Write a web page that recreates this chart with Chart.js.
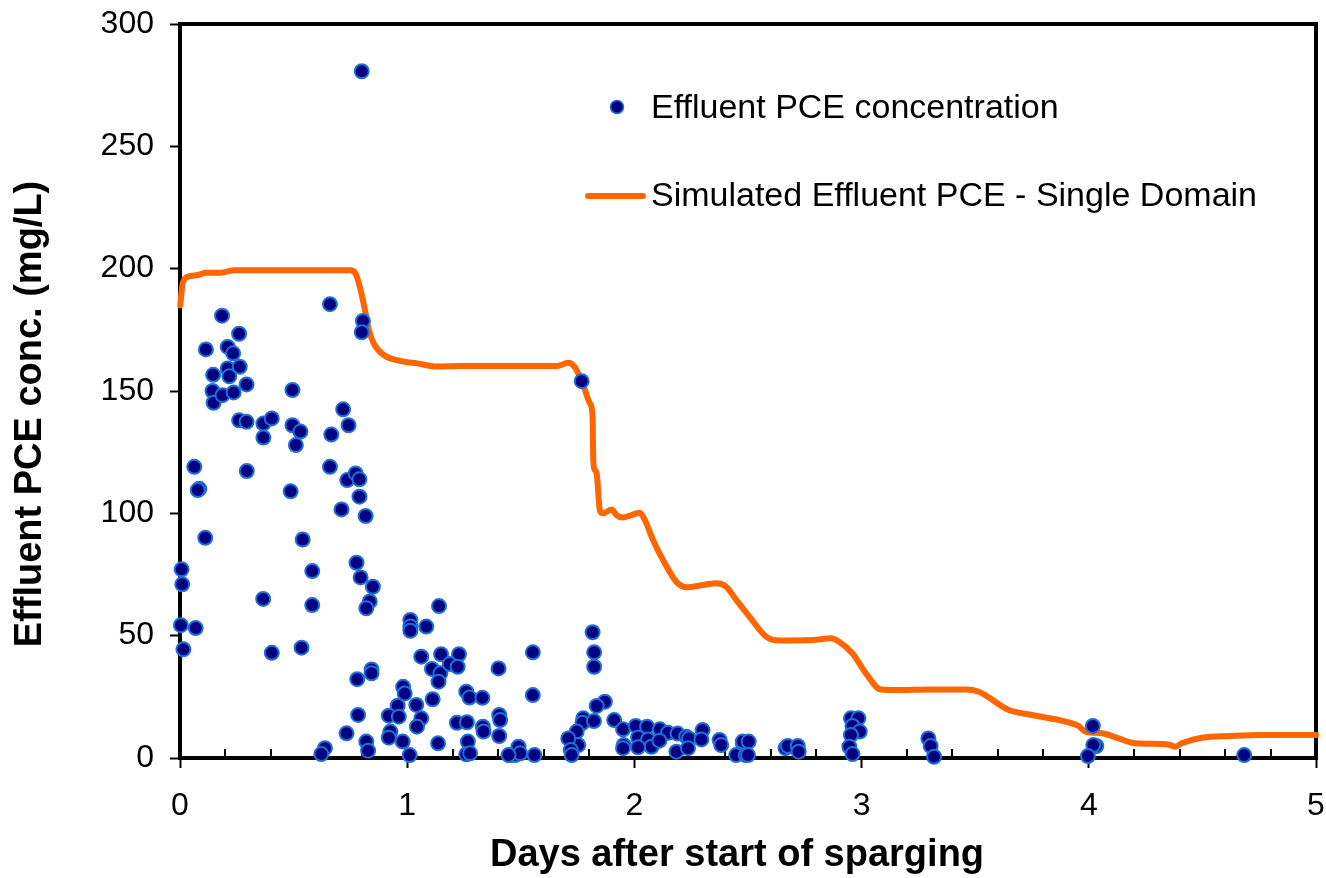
<!DOCTYPE html>
<html>
<head>
<meta charset="utf-8">
<script src="https://cdn.jsdelivr.net/npm/chart.js@4.4.1/dist/chart.umd.min.js"></script>
<style>
  html, body { margin: 0; padding: 0; background: #ffffff; }
  #wrap { width: 1326px; height: 878px; position: relative; }
</style>
</head>
<body>
<div id="wrap"><canvas id="c" width="1326" height="878"></canvas></div>
<script>
// ---------------- DATA ----------------
const xTickValues = [0, 1, 2, 3, 4, 5];
const yTickValues = [0, 50, 100, 150, 200, 250, 300];

const obsLabel = "Effluent PCE concentration";
const simLabel = "Simulated Effluent PCE - Single Domain";
const xTitle = "Days after start of sparging";
const yTitle = "Effluent PCE conc. (mg/L)";

// Observed effluent PCE (days, mg/L)
const obsDays = [
  0.80, 0.007, 0.01, 0.004, 0.015, 0.063, 0.085, 0.078, 0.069, 0.111,
  0.114, 0.146, 0.143, 0.148, 0.185, 0.187, 0.21, 0.21, 0.217, 0.234,
  0.236, 0.26, 0.263, 0.293, 0.26, 0.293, 0.294, 0.367, 0.404, 0.367,
  0.366, 0.404, 0.495, 0.495, 0.53, 0.51, 0.487, 0.54, 0.582, 0.582,
  0.535, 0.66, 0.666, 0.66, 0.718, 0.742, 0.736, 0.773, 0.79, 0.79,
  0.711, 0.817, 0.805, 0.80, 0.777, 0.795, 0.849, 0.835, 0.82, 0.843,
  0.843, 0.78, 0.784, 0.733, 0.82, 0.828, 0.638, 0.622,
  0.982, 0.989, 0.958, 0.919, 0.963, 0.926, 0.919, 0.98, 1.011, 1.014,
  1.014, 1.014, 1.084, 1.14, 1.062, 1.149, 1.228, 1.109, 1.146, 1.138,
  1.187, 1.222, 1.04, 1.112, 1.062, 1.043, 1.136, 1.26, 1.274, 1.331,
  1.219, 1.263, 1.333, 1.336, 1.267, 1.26, 1.277, 1.402, 1.405, 1.409,
  1.405, 1.453, 1.475, 1.487, 1.49, 1.497, 1.56, 1.446, 1.553, 1.553,
  1.816, 1.823, 1.823, 1.87, 1.834, 1.775, 1.772, 1.822, 1.746, 1.753,
  1.709, 1.72, 1.724, 1.911, 1.95, 1.953, 1.95, 2.006, 2.056, 2.112,
  2.148, 2.016, 2.06, 2.075, 2.016, 2.11, 2.19, 2.228, 2.24, 2.3,
  2.295, 2.185, 2.236, 2.375, 2.382, 2.448, 2.477, 2.49, 1.768,
  2.477, 2.503, 2.5, 2.665, 2.675, 2.719, 2.723, 2.953, 2.986, 2.96,
  2.992, 2.953, 2.946, 2.96, 3.294, 3.304, 3.319, 4.018, 4.033, 4.02,
  3.996, 4.684
];
const obsConc = [
  280.7, 77.1, 71, 54.3, 44.4, 119, 110, 109.5, 53.1, 90,
  167, 156.6, 150, 145.2, 180.8, 148.3, 168, 159.2, 156, 165.4,
  149.4, 173.4, 159.9, 152.7, 138, 137.4, 117.3, 136.7, 138.8, 131,
  65, 43, 150.4, 136, 133.4, 127.9, 109, 89.3, 76.4, 62.5,
  45.1, 185.5, 132.2, 119, 142.5, 136, 113.6, 116.3, 113.9, 106.8,
  101.6, 98.9, 178.6, 174, 79.8, 73.8, 70, 64, 61.2, 36.2,
  34.6, 32.2, 17.6, 10.1, 6.7, 3, 4, 1.6,
  29.1, 26.4, 21.4, 17.3, 16.9, 10.8, 8.3, 6.7, 1.2, 56.4,
  53.7, 52, 53.7, 62.1, 41.4, 42.4, 42.4, 36.4, 34.6, 31.2,
  38.4, 37.3, 21.7, 24, 16.2, 12.8, 6, 27.1, 24.7, 24.6,
  14.4, 14.6, 12.8, 10.8, 6.7, 1.5, 1.9, 36.6, 17.6, 15.5,
  9, 1.2, 1.2, 3.3, 4.6, 1.9, 1.2, 1.2, 43.2, 25.7,
  51.4, 43.2, 37.3, 23, 21.3, 16.2, 14.4, 15.1, 10.8, 5.3,
  8, 3.3, 1.2, 15.5, 11.7, 5.3, 4, 13.1, 12.8, 11.7,
  10.3, 8.4, 7.6, 4.6, 4.4, 7.1, 10, 8.7, 8, 11.4,
  7.6, 2.6, 4, 7.4, 5.3, 1.2, 6, 1.2, 154,
  6.7, 6.7, 1.2, 4, 4.9, 4.9, 2.6, 16.2, 16.2, 13.1,
  10.8, 9.4, 4.6, 1.6, 8, 4.9, 0.5, 13.1, 4.9, 5.3,
  0.8, 1.2
];

// Simulated effluent PCE, single domain (days, mg/L)
const simDays = [
  0.001, 0.012, 0.034, 0.078, 0.114, 0.18, 0.24, 0.5, 0.75, 0.773,
  0.795, 0.817, 0.831, 0.853, 0.897, 0.985, 1.043, 1.13, 1.233, 1.45,
  1.658, 1.709, 1.738, 1.775, 1.804, 1.816, 1.819, 1.826, 1.834, 1.848,
  1.863, 1.9, 1.921, 1.95, 1.987, 2.024, 2.046, 2.082, 2.126, 2.185,
  2.229, 2.302, 2.36, 2.404, 2.448, 2.507, 2.58, 2.638, 2.785, 2.865,
  2.901, 2.96, 3.019, 3.085, 3.165, 3.3, 3.458, 3.516, 3.648, 3.75,
  3.897, 3.955, 3.985, 4.058, 4.131, 4.204, 4.321, 4.358, 4.38, 4.409,
  4.497, 4.628, 4.76, 5.0
];
const simConc = [
  185, 194, 196.7, 197.4, 198.3, 198.3, 199.4, 199.4, 199.4, 198,
  191.3, 181.7, 175, 169.4, 164.7, 162, 161.3, 160, 160.2, 160.2,
  160.2, 161.5, 159.7, 152.4, 145, 139.5, 121.8, 117.7, 116.3, 101.3,
  100, 101.6, 99.3, 98.3, 99.3, 100.2, 97.3, 89.1, 80.9, 72,
  69.8, 70.7, 71.4, 70, 64.6, 57.7, 49.6, 48, 48.2, 48.9,
  47.5, 42.7, 34.6, 28, 27.8, 28, 28, 27.1, 19.6, 17.6,
  14.9, 13.1, 10.8, 10.1, 8, 6, 5.7, 5.3, 4.6, 6,
  8.3, 9, 9.4, 9.4
];

// ---------------- STYLE ----------------
const FONT = '"Liberation Sans", Arial, Helvetica, sans-serif';
const NAVY = '#000080';
const MARK_EDGE = '#1f6fd6';
const ORANGE = '#ff6600';

const obsPoints = obsDays.map((d, i) => ({ x: d, y: obsConc[i] }));
const simPoints = simDays.map((d, i) => ({ x: d, y: simConc[i] }));

const framePlugin = {
  id: 'frame',
  beforeDatasetsDraw(chart) {
    const { ctx, chartArea: a, scales } = chart;
    ctx.save();
    // minor ticks on x axis (inside), every 0.2 day
    ctx.strokeStyle = '#000';
    ctx.lineWidth = 2;
    for (let k = 1; k < 25; k++) {
      if (k % 5 === 0) continue;
      const px = Math.round(scales.x.getPixelForValue(k * 0.2));
      ctx.beginPath();
      ctx.moveTo(px, a.bottom);
      ctx.lineTo(px, a.bottom - 9);
      ctx.stroke();
    }
    // frame
    ctx.lineWidth = 4;
    ctx.strokeRect(a.left, a.top, a.right - a.left, a.bottom - a.top);
    ctx.restore();
  },
  afterDraw(chart) {
    const { ctx } = chart;
    ctx.save();
    // axis titles
    ctx.fillStyle = '#000';
    ctx.textAlign = 'center';
    ctx.textBaseline = 'middle';
    ctx.font = 'bold 38px ' + FONT;
    ctx.fillText(xTitle, 737, 856);
    ctx.translate(31, 414);
    ctx.rotate(-Math.PI / 2);
    ctx.font = 'bold 38px ' + FONT;
    ctx.fillText(yTitle, 0, 0);
    ctx.restore();

    // legend
    ctx.save();
    ctx.beginPath();
    ctx.arc(617, 107, 6.5, 0, Math.PI * 2);
    ctx.fillStyle = NAVY;
    ctx.fill();
    ctx.lineWidth = 1.5;
    ctx.strokeStyle = MARK_EDGE;
    ctx.stroke();

    ctx.beginPath();
    ctx.moveTo(588, 196);
    ctx.lineTo(643, 196);
    ctx.lineWidth = 6;
    ctx.lineCap = 'round';
    ctx.strokeStyle = ORANGE;
    ctx.stroke();

    ctx.fillStyle = '#000';
    ctx.font = '34px ' + FONT;
    ctx.textAlign = 'left';
    ctx.textBaseline = 'middle';
    ctx.fillText(obsLabel, 651, 109);
    ctx.fillText(simLabel, 651, 197);
    ctx.restore();
  }
};

new Chart(document.getElementById('c'), {
  type: 'scatter',
  data: {
    datasets: [
      {
        label: obsLabel,
        data: obsPoints,
        showLine: false,
        pointRadius: 7,
        pointHoverRadius: 7,
        pointBackgroundColor: NAVY,
        pointBorderColor: MARK_EDGE,
        pointBorderWidth: 2,
        clip: false
      },
      {
        label: simLabel,
        data: simPoints,
        showLine: true,
        borderColor: ORANGE,
        borderWidth: 6,
        pointRadius: 0,
        pointHoverRadius: 0,
        cubicInterpolationMode: 'monotone',
        borderJoinStyle: 'round',
        borderCapStyle: 'round',
        fill: false,
        clip: false
      }
    ]
  },
  options: {
    responsive: false,
    animation: false,
    events: [],
    layout: { autoPadding: false, padding: { top: 24, right: 10, left: 0, bottom: 0 } },
    plugins: {
      legend: { display: false },
      tooltip: { enabled: false },
      title: { display: false }
    },
    scales: {
      x: {
        type: 'linear',
        min: 0, max: 5,
        afterFit(s) { s.height = 120; s.paddingLeft = 0; s.paddingRight = 0; },
        afterBuildTicks(s) { s.ticks = xTickValues.map(v => ({ value: v })); },
        ticks: {
          color: '#000',
          font: { family: FONT, size: 32 },
          padding: 19,
          maxRotation: 0,
          callback: v => String(v)
        },
        grid: {
          display: true, drawOnChartArea: false, drawTicks: true,
          tickLength: 10, tickWidth: 2, tickColor: '#000'
        },
        border: { display: false },
        title: { display: false, text: xTitle }
      },
      y: {
        type: 'linear',
        min: 0, max: 300,
        afterFit(s) { s.width = 180; s.paddingTop = 0; s.paddingBottom = 0; },
        afterBuildTicks(s) { s.ticks = yTickValues.map(v => ({ value: v })); },
        ticks: {
          color: '#000',
          font: { family: FONT, size: 32 },
          padding: 16,
          callback: v => String(v)
        },
        grid: {
          display: true, drawOnChartArea: false, drawTicks: true,
          tickLength: 10, tickWidth: 2, tickColor: '#000'
        },
        border: { display: false },
        title: { display: false, text: yTitle }
      }
    }
  },
  plugins: [framePlugin]
});
</script>
</body>
</html>
